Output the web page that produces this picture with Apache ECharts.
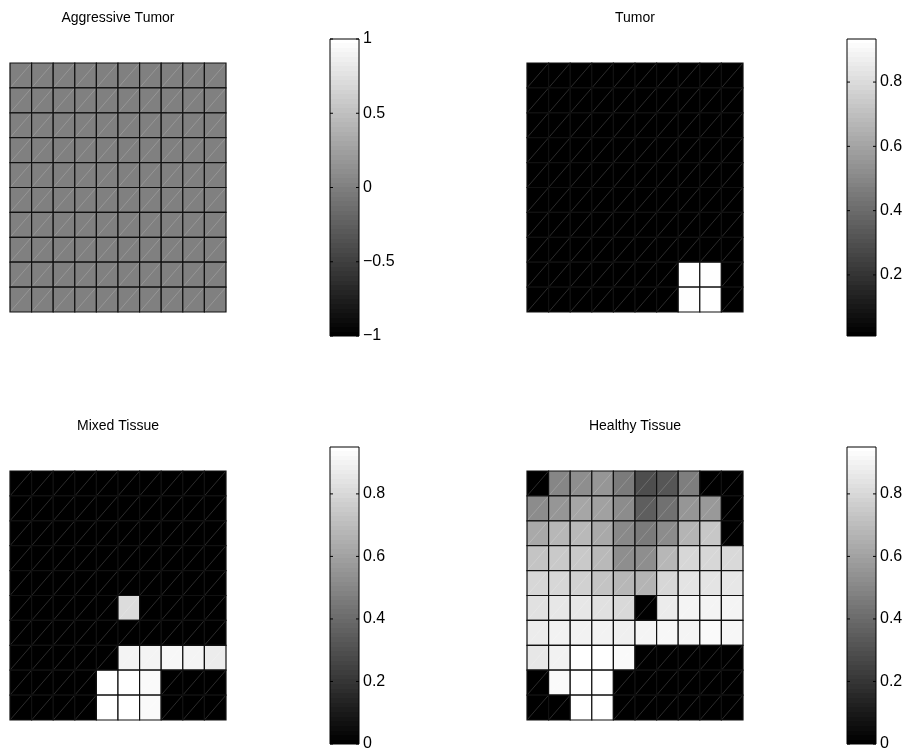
<!DOCTYPE html>
<html><head><meta charset="utf-8">
<script src="https://cdn.jsdelivr.net/npm/echarts@6/dist/echarts.min.js"></script>
<style>html,body{margin:0;padding:0;background:#fff}#c{width:914px;height:754px}</style>
</head><body><div id="c"></div>
<script>
// ---------- data ----------
const titles = ['Aggressive Tumor', 'Tumor', 'Mixed Tissue', 'Healthy Tissue'];
const colCats = ['1','2','3','4','5','6','7','8','9','10'];
const rowCats = ['1','2','3','4','5','6','7','8','9','10'];

const aggressive = [
  [0,0,0,0,0,0,0,0,0,0],
  [0,0,0,0,0,0,0,0,0,0],
  [0,0,0,0,0,0,0,0,0,0],
  [0,0,0,0,0,0,0,0,0,0],
  [0,0,0,0,0,0,0,0,0,0],
  [0,0,0,0,0,0,0,0,0,0],
  [0,0,0,0,0,0,0,0,0,0],
  [0,0,0,0,0,0,0,0,0,0],
  [0,0,0,0,0,0,0,0,0,0],
  [0,0,0,0,0,0,0,0,0,0]
];
const tumor = [
  [0.01,0.01,0.01,0.01,0.01,0.01,0.01,0.01,0.01,0.01],
  [0.01,0.01,0.01,0.01,0.01,0.01,0.01,0.01,0.01,0.01],
  [0.01,0.01,0.01,0.01,0.01,0.01,0.01,0.01,0.01,0.01],
  [0.01,0.01,0.01,0.01,0.01,0.01,0.01,0.01,0.01,0.01],
  [0.01,0.01,0.01,0.01,0.01,0.01,0.01,0.01,0.01,0.01],
  [0.01,0.01,0.01,0.01,0.01,0.01,0.01,0.01,0.01,0.01],
  [0.01,0.01,0.01,0.01,0.01,0.01,0.01,0.01,0.01,0.01],
  [0.01,0.01,0.01,0.01,0.01,0.01,0.01,0.01,0.01,0.01],
  [0.01,0.01,0.01,0.01,0.01,0.01,0.01,0.934,0.93,0.01],
  [0.01,0.01,0.01,0.01,0.01,0.01,0.01,0.93,0.934,0.01]
];
const mixed = [
  [0,0,0,0,0,0,0,0,0,0],
  [0,0,0,0,0,0,0,0,0,0],
  [0,0,0,0,0,0,0,0,0,0],
  [0,0,0,0,0,0,0,0,0,0],
  [0,0,0,0,0,0,0,0,0,0],
  [0,0,0,0,0,0.82,0,0,0,0],
  [0,0,0,0,0,0,0,0,0,0],
  [0,0,0,0,0,0.91,0.91,0.92,0.91,0.88],
  [0,0,0,0,0.95,0.95,0.93,0,0,0],
  [0,0,0,0,0.95,0.95,0.93,0,0,0]
];
const healthy = [
  [0,0.50,0.53,0.56,0.46,0.29,0.32,0.47,0,0],
  [0.52,0.56,0.62,0.60,0.52,0.35,0.42,0.56,0.57,0],
  [0.63,0.68,0.69,0.63,0.51,0.46,0.52,0.67,0.74,0],
  [0.73,0.75,0.75,0.69,0.53,0.53,0.68,0.80,0.80,0.81],
  [0.80,0.80,0.78,0.73,0.68,0.67,0.80,0.85,0.85,0.86],
  [0.84,0.86,0.86,0.84,0.81,0,0.88,0.91,0.91,0.91],
  [0.88,0.90,0.90,0.90,0.89,0.91,0.92,0.91,0.93,0.92],
  [0.86,0.90,0.95,0.95,0.93,0,0,0,0,0],
  [0,0.93,0.95,0.95,0,0,0,0,0,0],
  [0,0,0.95,0.95,0,0,0,0,0,0]
];

const aggressiveLimits = [-1, 1];
const aggressiveTicks = [-1, -0.5, 0, 0.5, 1];
const tumorTicks = [0.2, 0.4, 0.6, 0.8];
const mixedTicks = [0, 0.2, 0.4, 0.6, 0.8];
const healthyTicks = [0, 0.2, 0.4, 0.6, 0.8];

// ---------- layout ----------
const FONT = 'Liberation Sans, Arial, Helvetica, sans-serif';
const FS_TICK = 16, FS_TITLE = 14;
const panels = [
  { mat: aggressive, limits: aggressiveLimits, ticks: aggressiveTicks, gx: 10,  gy: 63,  cbx: 330, cby: 39,  tx: 118, ty: 18 },
  { mat: tumor,      limits: null,             ticks: tumorTicks,      gx: 527, gy: 63,  cbx: 847, cby: 39,  tx: 635, ty: 18 },
  { mat: mixed,      limits: null,             ticks: mixedTicks,      gx: 10,  gy: 471, cbx: 330, cby: 447, tx: 118, ty: 426 },
  { mat: healthy,    limits: null,             ticks: healthyTicks,    gx: 527, gy: 471, cbx: 847, cby: 447, tx: 635, ty: 426 }
];
const GW = 216, GH = 249, CBW = 29, CBH = 297;

const grids = [], xAxes = [], yAxes = [], series = [], visualMaps = [], graphics = [];

function toCells(mat) {
  const out = [];
  mat.forEach((row, r) => row.forEach((v, c) => out.push([c, r, v])));
  return out;
}
function fmt(v) {
  return String(v).replace('-', '\u2212');
}
// 64-level gray gradient (like a gray colormap)
const grayStops = [];
for (let k = 0; k < 64; k++) {
  const g = Math.round(k / 63 * 255);
  const col = 'rgb(' + g + ',' + g + ',' + g + ')';
  grayStops.push({ offset: k / 64, color: col });
  grayStops.push({ offset: (k + 1) / 64, color: col });
}

panels.forEach((p, i) => {
  const flat = p.mat.flat();
  const lo = p.limits ? p.limits[0] : Math.min.apply(null, flat);
  const hi = p.limits ? p.limits[1] : Math.max.apply(null, flat);

  // ---- cell grid ----
  const gi = grids.length;
  grids.push({ left: p.gx, top: p.gy, width: GW, height: GH, containLabel: false });
  const xi = xAxes.length;
  xAxes.push({ type: 'category', data: colCats, gridIndex: gi, show: false });
  const yi = yAxes.length;
  yAxes.push({ type: 'category', data: rowCats, gridIndex: gi, show: false, inverse: true });
  const si = series.length;
  series.push({
    type: 'custom', xAxisIndex: xi, yAxisIndex: yi,
    data: toCells(p.mat), silent: true, animation: false,
    encode: { x: 0, y: 1 },
    renderItem: function (params, api) {
      const c = api.coord([api.value(0), api.value(1)]);
      const s = api.size([1, 1]);
      const x = c[0] - s[0] / 2, y = c[1] - s[1] / 2;
      return {
        type: 'group',
        children: [
          { type: 'rect', shape: { x: x, y: y, width: s[0], height: s[1] },
            style: { fill: api.visual('color'), stroke: null } },
          { type: 'line', shape: { x1: x, y1: y + s[1], x2: x + s[0], y2: y },
            style: { stroke: 'rgba(255,255,255,0.22)', lineWidth: 0.8 } },
          { type: 'rect', shape: { x: x, y: y, width: s[0], height: s[1] },
            style: { fill: null, stroke: '#111', lineWidth: 1.2 } }
        ]
      };
    }
  });
  visualMaps.push({
    type: 'continuous', show: false, seriesIndex: si, dimension: 2,
    min: lo, max: hi, inRange: { color: ['#000000', '#ffffff'] }
  });

  // ---- colorbar ----
  const ci = grids.length;
  grids.push({ left: p.cbx, top: p.cby, width: CBW, height: CBH, containLabel: false });
  const cxi = xAxes.length;
  xAxes.push({ type: 'value', gridIndex: ci, min: 0, max: 1, show: false });
  const cyi = yAxes.length;
  yAxes.push({
    type: 'value', gridIndex: ci, min: lo, max: hi, position: 'right',
    axisLine: { show: false }, splitLine: { show: false },
    axisTick: { show: false },
    axisLabel: { show: true, customValues: p.ticks, formatter: fmt, margin: 4, color: '#000',
                 fontFamily: FONT, fontSize: FS_TICK }
  });
  const ticks = p.ticks;
  series.push({
    type: 'custom', xAxisIndex: cxi, yAxisIndex: cyi, data: [[0, lo]],
    silent: true, animation: false,
    renderItem: function (params, api) {
      const a = api.coord([0, lo]);
      const b = api.coord([1, hi]);
      const children = [{
        type: 'rect',
        shape: { x: a[0], y: b[1], width: b[0] - a[0], height: a[1] - b[1] },
        style: {
          fill: new echarts.graphic.LinearGradient(0, 1, 0, 0, grayStops),
          stroke: '#000', lineWidth: 1
        }
      }];
      ticks.forEach(function (t) {
        const pl = api.coord([0, t]);
        const pr = api.coord([1, t]);
        children.push({ type: 'line', shape: { x1: pl[0], y1: pl[1], x2: pl[0] + 3, y2: pl[1] },
          style: { stroke: '#000', lineWidth: 1 } });
        children.push({ type: 'line', shape: { x1: pr[0] - 3, y1: pr[1], x2: pr[0], y2: pr[1] },
          style: { stroke: '#000', lineWidth: 1 } });
      });
      return { type: 'group', children: children };
    }
  });

  graphics.push({
    type: 'text', x: p.tx, y: p.ty,
    style: { text: titles[i], fill: '#000', font: FS_TITLE + 'px ' + FONT, textAlign: 'center', textVerticalAlign: 'middle' }
  });
});

const chart = echarts.init(document.getElementById('c'), null, { renderer: 'canvas' });
chart.setOption({
  animation: false,
  backgroundColor: '#fff',
  grid: grids, xAxis: xAxes, yAxis: yAxes,
  visualMap: visualMaps, series: series, graphic: graphics
});
</script></body></html>
